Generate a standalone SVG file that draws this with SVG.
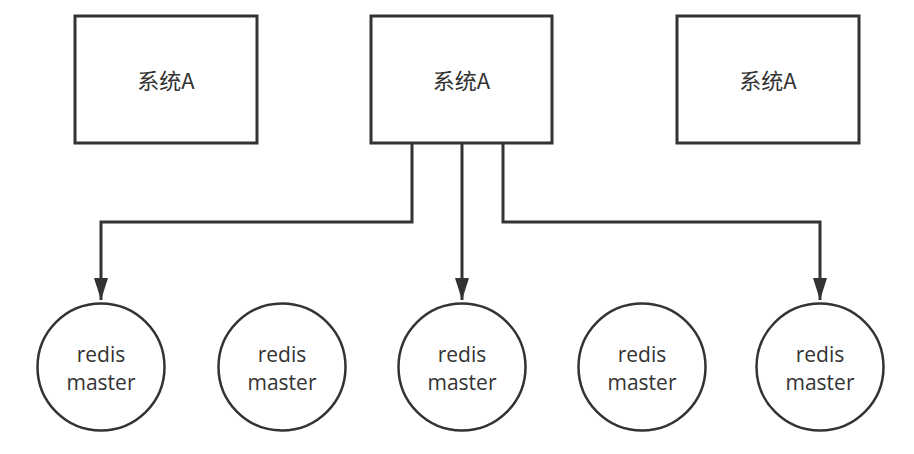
<svg xmlns="http://www.w3.org/2000/svg" width="914" height="454" viewBox="0 0 914 454">
<defs>
<style>
.box{fill:#fff;stroke:#333;stroke-width:3}
.node{fill:#fff;stroke:#333;stroke-width:2.5}
.lbl{font-family:"Open Sans","Noto Sans","Noto Sans CJK SC",sans-serif;font-size:21px;fill:#333;text-anchor:middle}
.cjk{font-family:"Noto Sans CJK SC","Open Sans",sans-serif;font-size:22px;fill:#333;text-anchor:middle}
.edge{fill:none;stroke:#333;stroke-width:3}
</style>
</defs>
<rect width="914" height="454" fill="#fff"/>
<g id="sysA1"><rect class="box" x="75" y="16" width="182" height="127"/><text class="cjk" x="166" y="89">系统A</text></g>
<g id="sysA2"><rect class="box" x="371" y="16" width="181" height="127"/><text class="cjk" x="461.5" y="89">系统A</text></g>
<g id="sysA3"><rect class="box" x="677" y="16" width="182" height="127"/><text class="cjk" x="768" y="89">系统A</text></g>
<g id="redis1"><circle class="node" cx="101" cy="367" r="63.5"/><text class="lbl" x="101" y="362">redis</text><text class="lbl" x="101" y="390">master</text></g>
<g id="redis2"><circle class="node" cx="282" cy="367" r="63.5"/><text class="lbl" x="282" y="362">redis</text><text class="lbl" x="282" y="390">master</text></g>
<g id="redis3"><circle class="node" cx="462" cy="367" r="63.5"/><text class="lbl" x="462" y="362">redis</text><text class="lbl" x="462" y="390">master</text></g>
<g id="redis4"><circle class="node" cx="642" cy="367" r="63.5"/><text class="lbl" x="642" y="362">redis</text><text class="lbl" x="642" y="390">master</text></g>
<g id="redis5"><circle class="node" cx="820" cy="367" r="63.5"/><text class="lbl" x="820" y="362">redis</text><text class="lbl" x="820" y="390">master</text></g>
<g id="connectors">
<path d="M412,143 V222 H101 V300" class="edge"/>
<path d="M101,278 L108,278 L101,300 L94,278 Z" fill="#333"/>
<path d="M462,143 V300" class="edge"/>
<path d="M462,278 L469,278 L462,300 L455,278 Z" fill="#333"/>
<path d="M503,143 V222 H820 V300" class="edge"/>
<path d="M820,278 L827,278 L820,300 L813,278 Z" fill="#333"/>
</g>
</svg>
